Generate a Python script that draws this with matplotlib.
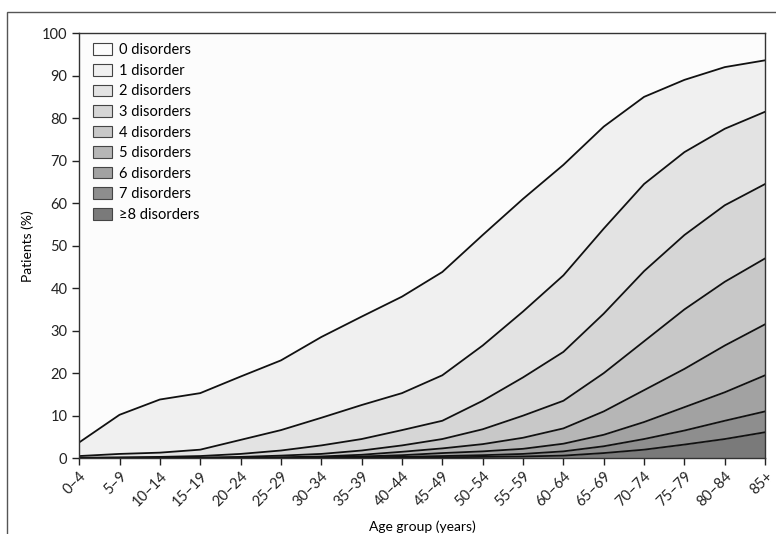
import matplotlib
matplotlib.use("Agg")
import matplotlib.pyplot as plt
from matplotlib.patches import Patch, Rectangle

# 年龄组
ages = ["0–4", "5–9", "10–14", "15–19", "20–24", "25–29", "30–34", "35–39",
        "40–44", "45–49", "50–54", "55–59", "60–64", "65–69", "70–74",
        "75–79", "80–84", "85+"]

# cumulative % of patients with >= k disorders
ge1 = [3.7, 10.2, 13.8, 15.3, 19.2, 23.0, 28.5, 33.3, 38.0, 43.8, 52.5, 61.0, 69.0, 78.0, 85.0, 89.0, 92.0, 93.6]
ge2 = [0.5, 1.0, 1.3, 2.0, 4.3, 6.6, 9.5, 12.5, 15.3, 19.5, 26.5, 34.5, 43.0, 54.0, 64.5, 72.0, 77.5, 81.5]
ge3 = [0.1, 0.2, 0.3, 0.5, 1.0, 1.8, 3.0, 4.5, 6.6, 8.8, 13.5, 19.0, 25.0, 34.0, 44.0, 52.5, 59.5, 64.5]
ge4 = [0.0, 0.05, 0.1, 0.15, 0.3, 0.6, 1.0, 1.8, 3.0, 4.5, 6.8, 10.0, 13.5, 20.0, 27.5, 35.0, 41.5, 47.0]
ge5 = [0.0, 0.0, 0.05, 0.05, 0.1, 0.2, 0.4, 0.8, 1.5, 2.3, 3.3, 4.8, 7.0, 11.0, 16.0, 21.0, 26.5, 31.5]
ge6 = [0.0, 0.0, 0.0, 0.0, 0.05, 0.1, 0.2, 0.4, 0.7, 1.2, 1.6, 2.2, 3.4, 5.5, 8.5, 12.0, 15.5, 19.5]
ge7 = [0.0, 0.0, 0.0, 0.0, 0.0, 0.05, 0.1, 0.2, 0.3, 0.5, 0.7, 1.0, 1.6, 2.8, 4.5, 6.5, 8.8, 11.0]
ge8 = [0.0, 0.0, 0.0, 0.0, 0.0, 0.0, 0.05, 0.1, 0.15, 0.2, 0.3, 0.4, 0.6, 1.2, 2.0, 3.2, 4.5, 6.1]

labels = ["0 disorders", "1 disorder", "2 disorders", "3 disorders", "4 disorders",
          "5 disorders", "6 disorders", "7 disorders", "≥8 disorders"]
fills = ["#fcfcfc", "#f0f0f0", "#e3e3e3", "#d6d6d6", "#c8c8c8",
         "#b6b6b6", "#a2a2a2", "#8e8e8e", "#7a7a7a"]

plt.rcParams["font.family"] = ["Lato", "DejaVu Sans"]

fig = plt.figure(figsize=(7.76, 5.34), dpi=100)
ax = fig.add_axes([0.102, 0.142, 0.884, 0.796])

x = list(range(len(ages)))
curves = [[100.0] * len(ages), ge1, ge2, ge3, ge4, ge5, ge6, ge7, ge8, [0.0] * len(ages)]

for i in range(9):
    ax.fill_between(x, curves[i + 1], curves[i], color=fills[i], linewidth=0)
for c in curves[1:9]:
    ax.plot(x, c, color="#111111", linewidth=1.3)

ax.set_xlim(0, len(ages) - 1)
ax.set_ylim(0, 100)
ax.set_yticks(range(0, 101, 10))
ax.set_xticks(x)
ax.set_xticklabels(ages, rotation=45, ha="right", rotation_mode="anchor")
ax.tick_params(direction="out", length=5, width=1, labelsize=10.5, colors="#222222")
ax.tick_params(axis="x", pad=3)
for s in ax.spines.values():
    s.set_color("#333333")
    s.set_linewidth(1)

ax.set_xlabel("Age group (years)", fontsize=10, labelpad=8)
ax.set_ylabel("Patients (%)", fontsize=10, labelpad=6)

handles = [Patch(facecolor=f, edgecolor="#444444", linewidth=0.8) for f in fills]
ax.legend(handles, labels, loc="upper left", frameon=False, fontsize=10.5,
          handlelength=1.3, handleheight=0.85, handletextpad=0.5,
          labelspacing=0.45, borderaxespad=0.3, bbox_to_anchor=(0.005, 1.0))

# outer frame (top and left edges of the original panel)
fig.patches.append(Rectangle((0.009, -0.1), 1.2, 1.077, transform=fig.transFigure,
                             fill=False, edgecolor="#555555", linewidth=1))

fig.savefig("out.png", dpi=100)
